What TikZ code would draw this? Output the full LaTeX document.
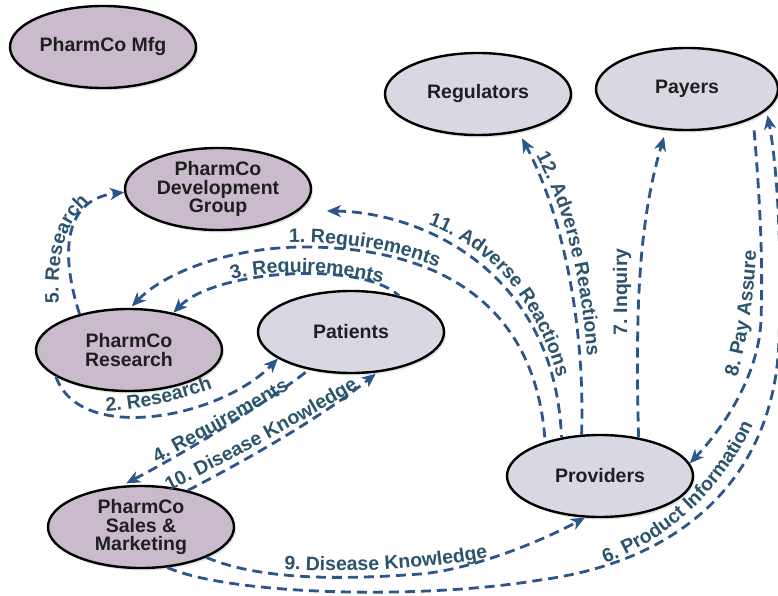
\documentclass[tikz,border=0pt]{standalone}
\usepackage{fontspec}
\setmainfont{Liberation Sans}
\usetikzlibrary{shapes.geometric,arrows.meta,decorations.text,shadows}
\definecolor{mauve}{RGB}{201,187,203}
\definecolor{lav}{RGB}{216,216,227}
\definecolor{edgec}{RGB}{42,86,138}
\definecolor{lblc}{RGB}{44,84,108}
\newcommand\nodefont{\fontsize{19.5}{18.5}\selectfont\bfseries}
\newcommand\lblfont{\fontsize{19.5}{19.5}\selectfont\bfseries}
\tikzset{
  ent/.style={ellipse, draw=black, line width=2.4pt, minimum width=186pt,
    minimum height=82pt, inner sep=0pt, align=center, font=\nodefont,
    text=black!88, drop shadow={opacity=0.22, shadow xshift=2pt, shadow yshift=-2.5pt}},
  pharm/.style={ent, fill=mauve},
  ext/.style={ent, fill=lav},
  flow/.style={draw=edgec, line width=2.8pt, dash pattern=on 10pt off 6pt},
  fwd/.style={flow, -{Stealth[length=14pt,width=12pt,inset=4pt]}},
  bwd/.style={flow, {Stealth[length=14pt,width=12pt,inset=4pt]}-},
  lbl/.style={decorate, decoration={text along path, text={|\lblfont|#1},
    text color=lblc, text align=left}},
}
\begin{document}
\begin{tikzpicture}[x=1pt,y=-1pt]
\useasboundingbox (0,0) rectangle (778,596);
% nodes
\node[pharm] (mfg) at (103,47) {PharmCo Mfg};
\node[pharm] (dev) at (218,189) {PharmCo\\Development\\Group};
\node[ext] (reg) at (478,94) {Regulators};
\node[ext, minimum width=182pt] (pay) at (687,89) {Payers};
\node[pharm] (res) at (129,350) {PharmCo\\Research};
\node[ext] (pat) at (351,332) {Patients};
\node[pharm] (sal) at (141,527) {PharmCo\\Sales \&\\Marketing};
\node[ext] (prov) at (600,476) {Providers};
% connectors
% 1 Providers -> Research
\draw[bwd, shorten <=2pt] (res.88) .. controls (165,272) and (230,248) .. (300,247)
  .. controls (420,246) and (535,290) .. (prov.148);
% 2 Research -> Patients
\draw[fwd] (res.200) .. controls (80,445) and (220,418) .. (pat.200);
% 3 Patients -> Research
\draw[bwd] (res.40) .. controls (215,270) and (360,260) .. (pat.37);
% 4 Patients -> Sales
\draw[bwd, shorten <=5pt] (sal.115) .. controls (190,450) and (270,400) .. (pat.-138);
% 5 Research -> Dev
\draw[fwd] (res.144) .. controls (62,260) and (60,200) .. (dev.182);
% 6 Sales -> Payers
\draw[fwd, shorten >=5pt] (sal.-57) .. controls (230,595) and (420,600) .. (540,580)
  .. controls (690,560) and (775,470) .. (779,340)
  .. controls (782,260) and (778,170) .. (pay.-15);
% 7 Providers -> Payers
\draw[fwd, shorten >=7pt] (prov.45) .. controls (636,330) and (636,230) .. (pay.-117);
% 8 Payers -> Providers
\draw[fwd, shorten <=12pt] (pay.-24) .. controls (760,200) and (763,260) .. (761,320)
  .. controls (759,370) and (730,420) .. (prov.8);
% 9 Sales -> Providers
\draw[fwd] (sal.-25) .. controls (260,580) and (340,580) .. (420,574)
  .. controls (470,570) and (540,542) .. (prov.-110);
% 10 Sales -> Patients
\draw[fwd, shorten >=2pt] (sal.38) .. controls (250,458) and (320,418) .. (pat.-57);
% 11 Providers -> Dev
\draw[bwd, shorten <=28pt] (dev.-15) .. controls (420,212) and (555,270) .. (prov.135);
% 12 Providers -> Regulators
\draw[fwd, shorten >=7pt] (prov.114) .. controls (585,330) and (565,220) .. (reg.-43);
% labels
\path[lbl={1. Requirements}] (289,243) .. controls (340,242) and (410,248) .. (475,285);
\path[lbl={2. Research}] (106,411) .. controls (150,408) and (200,398) .. (255,370);
\path[lbl={3. Requirements}] (232,280) .. controls (270,269) and (350,266) .. (425,298);
\path[lbl={4. Requirements}] (157,463) .. controls (200,440) and (260,408) .. (330,365);
\path[lbl={5. Research}] (59,303) .. controls (57,250) and (65,215) .. (105,190);
\path[lbl={6. Product Information}] (605,563) .. controls (670,540) and (740,480) .. (768,385);
\path[lbl={7. Inquiry}] (627,335) -- (627,200);
\path[lbl={8. Pay Assure}] (737,377) .. controls (750,330) and (757,280) .. (758,200);
\path[lbl={9. Disease Knowledge}] (284,569) .. controls (360,574) and (450,570) .. (540,545);
\path[lbl={10. Disease Knowledge}] (169,491) .. controls (230,460) and (300,425) .. (395,365);
\path[lbl={11. Adverse Reactions}] (428,225) .. controls (485,245) and (545,300) .. (565,410);
\path[lbl={12. Adverse Reactions}] (536,156) .. controls (570,220) and (588,300) .. (590,420);
\end{tikzpicture}
\end{document}
